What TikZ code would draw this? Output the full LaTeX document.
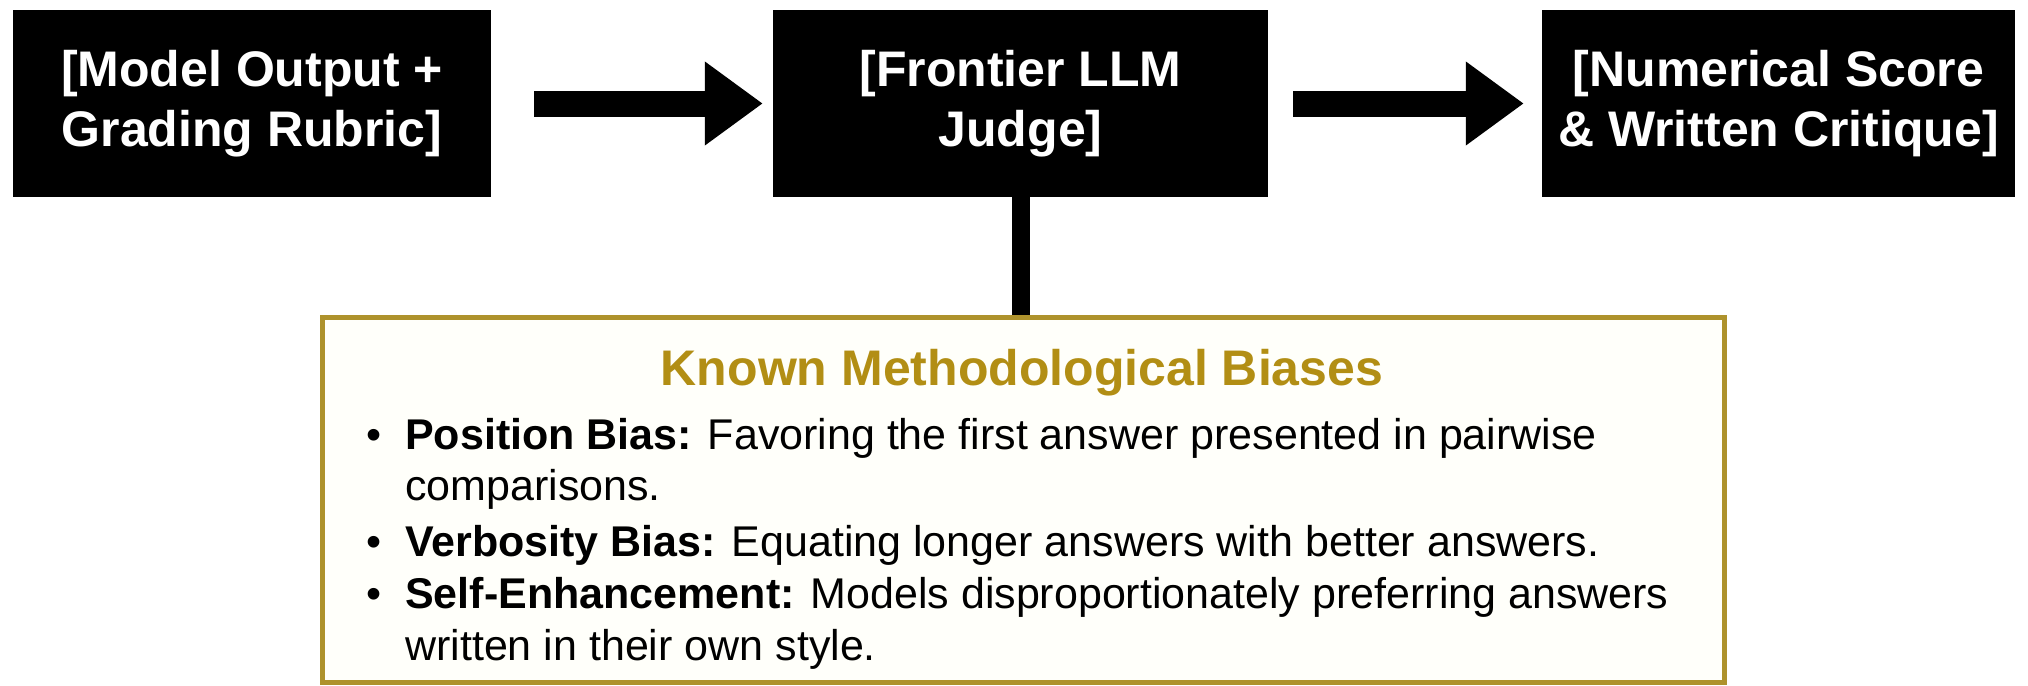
\documentclass[tikz,border=0pt]{standalone}
\usepackage{fontspec}
\setmainfont{Liberation Sans}
\usetikzlibrary{arrows.meta}
\definecolor{goldtxt}{RGB}{178,142,20}
\definecolor{goldline}{RGB}{174,146,44}
\definecolor{cream}{RGB}{255,255,250}
\begin{document}
\begin{tikzpicture}[x=1pt,y=-1pt,
  blackbox/.style={fill=black, text=white, inner sep=0pt, minimum height=187pt,
    font=\fontsize{50}{60}\selectfont\bfseries, align=center},
  bigarrow/.style={line width=26pt, -{Triangle[length=58pt,width=80pt]}},
  linetext/.style={anchor=base west, inner sep=0pt, font=\fontsize{43}{52}\selectfont}
]
\useasboundingbox[fill=white] (0,0) rectangle (2028,685);
\node[blackbox, minimum width=478pt] (inp) at (252,103.5) {[Model Output +\\Grading Rubric]};
\node[blackbox, minimum width=495pt] (judge) at (1020.5,103.5) {[Frontier LLM\\Judge]};
\node[blackbox, minimum width=473pt] (out) at (1778.5,103.5) {[Numerical Score\\\& Written Critique]};
\draw[bigarrow, shorten <=43pt, shorten >=10pt] (inp) -- (judge);
\draw[bigarrow, shorten <=25pt, shorten >=18pt] (judge) -- (out);
\node[draw=goldline, line width=5pt, fill=cream, minimum width=1402pt, minimum height=365pt, inner sep=0pt] (bias) at (1023,499.5) {};
\draw[line width=18pt] (judge.south) -- (judge.south |- bias.north);
\node[anchor=base, text=goldtxt, font=\fontsize{50}{60}\selectfont\bfseries, inner sep=0pt] (title) at (1022,385) {Known Methodological Biases};
\node[linetext] (d1) at (366,449) {\textbullet};
\node[linetext] (d2) at (366,556) {\textbullet};
\node[linetext] (d3) at (366,608) {\textbullet};
\node[linetext] (p1) at (405,449) {\textbf{Position Bias:} Favoring the first answer presented in pairwise};
\node[linetext] (p2) at (405,500) {comparisons.};
\node[linetext] (v1) at (405,556) {\textbf{Verbosity Bias:} Equating longer answers with better answers.};
\node[linetext] (s1) at (405,608) {\textbf{Self-Enhancement:} Models disproportionately preferring answers};
\node[linetext] (s2) at (405,660) {written in their own style.};
\end{tikzpicture}
\end{document}
